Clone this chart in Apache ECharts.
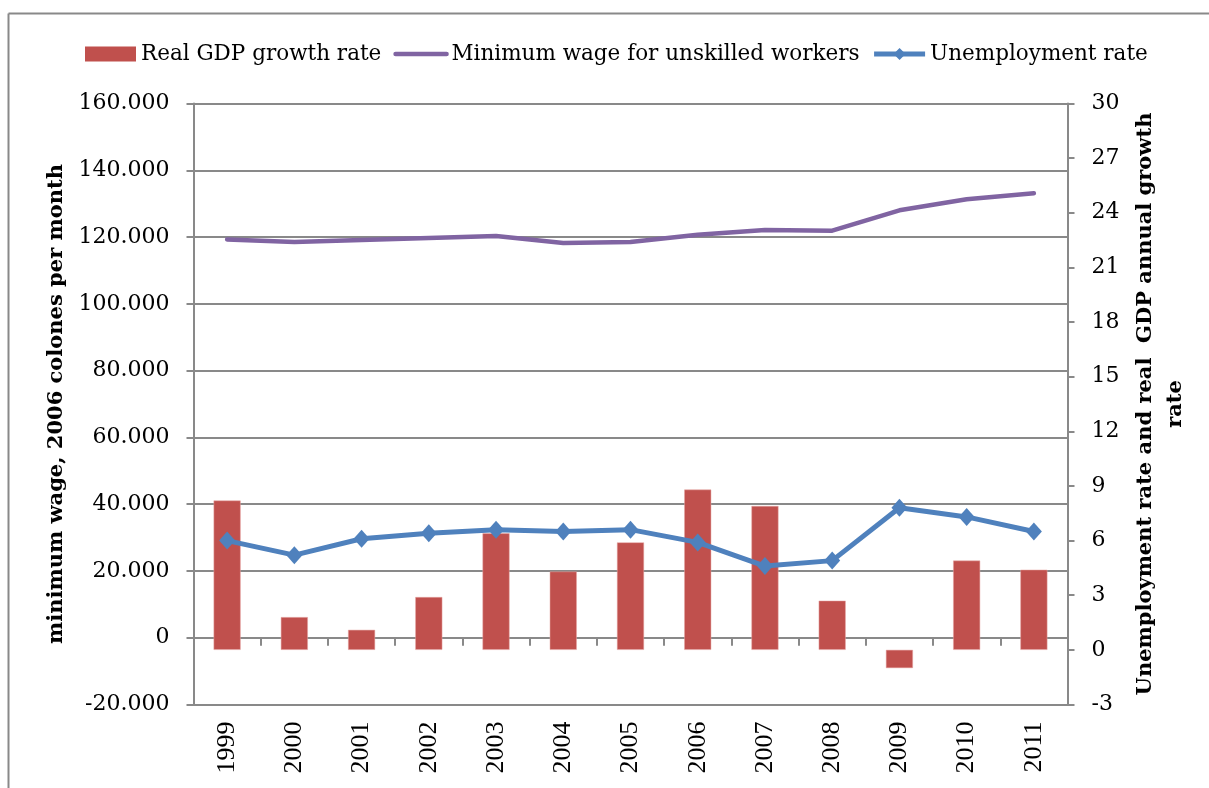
<!DOCTYPE html>
<html>
<head>
<meta charset="utf-8">
<script src="https://cdn.jsdelivr.net/npm/echarts@6/dist/echarts.min.js"></script>
<style>
html,body{margin:0;padding:0;background:#fff;}
#chart{width:1209px;height:788px;}
</style>
</head>
<body>
<div id="chart"></div>
<script>
const years = ['1999','2000','2001','2002','2003','2004','2005','2006','2007','2008','2009','2010','2011'];
const gdpGrowth = [8.2, 1.8, 1.1, 2.9, 6.4, 4.3, 5.9, 8.8, 7.9, 2.7, -1.0, 4.9, 4.4];
const minWage = [119300, 118500, 119100, 119700, 120300, 118200, 118500, 120700, 122100, 121900, 128000, 131300, 133100];
const unemployment = [6.0, 5.2, 6.1, 6.4, 6.6, 6.5, 6.6, 5.9, 4.6, 4.9, 7.8, 7.3, 6.5];

const leftTitle = 'minimum wage, 2006 colones per month';
const rightTitle = 'Unemployment rate and real  GDP annual growth\nrate';
const names = ['Real GDP growth rate', 'Minimum wage for unskilled workers', 'Unemployment rate'];

const GRAY = '#898989';
const SERIF = '"DejaVu Serif", serif';

function fmtThousands(v) {
  if (v === 0) return '0';
  return String(v).replace(/\B(?=(\d{3})+(?!\d))/g, '.');
}

const chart = echarts.init(document.getElementById('chart'));
chart.setOption({
  animation: false,
  backgroundColor: '#fff',
  graphic: [{
    type: 'line',
    shape: {x1: 8.5, y1: 13.5, x2: 1209, y2: 13.5},
    style: {stroke: GRAY, lineWidth: 2},
    silent: true
  }, {
    type: 'line',
    shape: {x1: 8.5, y1: 13.5, x2: 8.5, y2: 788},
    style: {stroke: GRAY, lineWidth: 2},
    silent: true
  }],
  legend: {
    left: 85,
    top: 43,
    padding: 0,
    itemWidth: 51,
    itemHeight: 15,
    itemGap: 12,
    textStyle: {fontFamily: SERIF, fontSize: 21.5, color: '#000'},
    data: [
      {name: names[0], icon: 'rect', itemStyle: {borderWidth: 0}},
      {name: names[1], itemStyle: {color: 'rgba(0,0,0,0)', opacity: 0}, lineStyle: {width: 4.5, color: '#8064A2', cap: 'round'}},
      {name: names[2], lineStyle: {width: 5, color: '#4F81BD'}}
    ]
  },
  grid: {left: 193.5, right: 141.5, top: 103.5, bottom: 83.5, containLabel: false},
  xAxis: [{
    type: 'category',
    data: years,
    position: 'bottom',
    boundaryGap: true,
    axisLine: {show: true, onZero: false, lineStyle: {color: GRAY, width: 2}},
    axisTick: {show: false},
    axisLabel: {rotate: 90, margin: 17, fontFamily: '"Liberation Serif", serif', fontSize: 26, color: '#000'},
    splitLine: {show: false}
  }, {
    type: 'category',
    data: years,
    position: 'bottom',
    boundaryGap: true,
    axisLine: {show: true, onZero: true, onZeroAxisIndex: 0, lineStyle: {color: GRAY, width: 2}},
    axisTick: {show: true, length: 8, lineStyle: {color: GRAY, width: 2}},
    axisLabel: {show: false},
    splitLine: {show: false}
  }],
  yAxis: [{
    type: 'value',
    position: 'left',
    min: -20000,
    max: 160000,
    interval: 20000,
    name: leftTitle,
    nameLocation: 'middle',
    nameRotate: 90,
    nameGap: 126,
    nameTextStyle: {fontFamily: SERIF, fontWeight: 'bold', fontSize: 21, color: '#000'},
    axisLine: {show: true, lineStyle: {color: GRAY, width: 2}},
    axisTick: {show: true, length: 7, lineStyle: {color: GRAY, width: 2}},
    axisLabel: {margin: 24, fontFamily: SERIF, fontSize: 22, color: '#000', formatter: fmtThousands},
    splitLine: {show: true, lineStyle: {color: GRAY, width: 2}}
  }, {
    type: 'value',
    position: 'right',
    min: -3,
    max: 30,
    interval: 3,
    name: rightTitle,
    nameLocation: 'middle',
    nameRotate: 90,
    nameGap: 62,
    nameTextStyle: {fontFamily: SERIF, fontWeight: 'bold', fontSize: 21, color: '#000', lineHeight: 30, align: 'center'},
    axisLine: {show: true, lineStyle: {color: GRAY, width: 2}},
    axisTick: {show: true, length: 7, lineStyle: {color: GRAY, width: 2}},
    axisLabel: {margin: 24, fontFamily: SERIF, fontSize: 22, color: '#000'},
    splitLine: {show: false}
  }],
  series: [{
    name: names[0],
    type: 'bar',
    xAxisIndex: 0,
    yAxisIndex: 1,
    data: gdpGrowth,
    barWidth: 27,
    itemStyle: {color: '#C0504D', borderColor: '#E6A7A5', borderWidth: 0.5},
    z: 2
  }, {
    name: names[1],
    type: 'line',
    xAxisIndex: 0,
    yAxisIndex: 0,
    data: minWage,
    symbol: 'none',
    lineStyle: {color: '#8064A2', width: 4.5, cap: 'round', join: 'round'},
    itemStyle: {color: '#8064A2'},
    z: 3
  }, {
    name: names[2],
    type: 'line',
    xAxisIndex: 0,
    yAxisIndex: 1,
    data: unemployment,
    symbol: 'diamond',
    symbolSize: [16, 18],
    lineStyle: {color: '#4F81BD', width: 5, join: 'round'},
    itemStyle: {color: '#4F81BD'},
    z: 4
  }]
});
</script>
</body>
</html>
